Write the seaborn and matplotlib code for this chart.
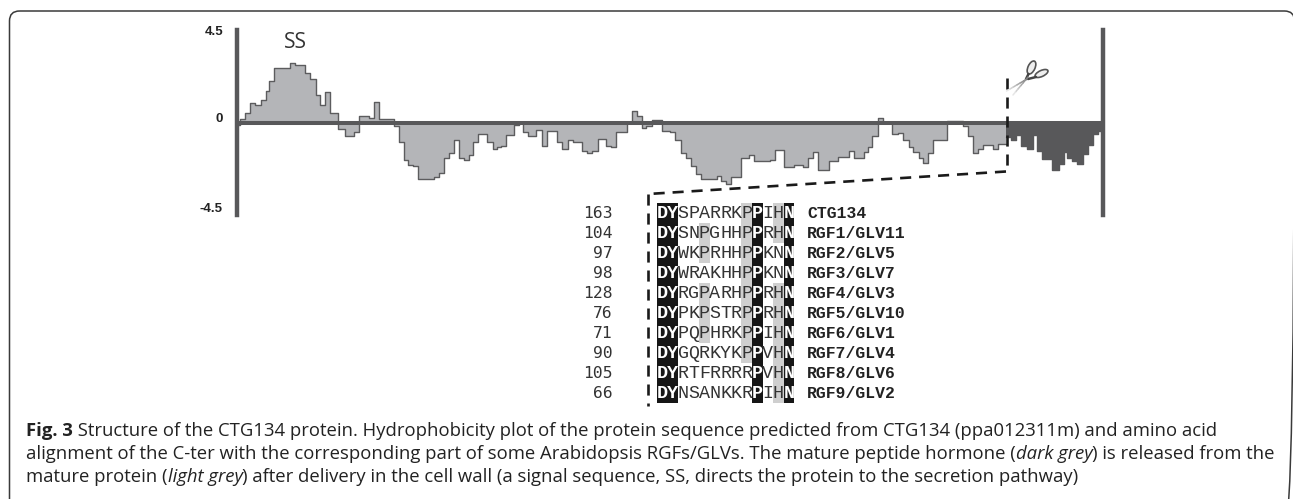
import matplotlib
matplotlib.use('Agg')
import matplotlib.pyplot as plt
import numpy as np
import pandas as pd
import seaborn as sns
from matplotlib.colors import ListedColormap
from matplotlib.patches import Ellipse, FancyBboxPatch

W, H = 1293, 499

# position along the sequence (arbitrary units, left to right) and hydrophobicity
light_pos = [0, 3, 8, 13, 18, 24, 29, 32, 37, 53, 58, 68, 73, 79, 83, 88, 93, 101, 108, 117,
             122, 132, 137, 142, 157, 162, 167, 171, 176, 181, 197, 202, 207, 212, 217, 222, 227, 232, 236, 241,
             250, 256, 261, 265, 270, 277, 282, 286, 291, 299, 305, 310, 320, 325, 331, 336, 345, 350, 355, 361,
             369, 374, 379, 390, 395, 400, 405, 409, 415, 425, 433, 438, 444, 449, 454, 459, 464, 480, 484, 489,
             494, 504, 513, 518, 534, 539, 548, 558, 567, 572, 577, 582, 593, 602, 613, 618, 628, 632, 636, 642,
             647, 656, 662, 667, 673, 677, 683, 687, 692, 697, 711, 727, 732, 737, 742, 747, 757, 762, 770]
light_hyd = [-0.1, 0.21, 0.49, 0.95, 0.87, 1.11, 1.57, 2.06, 2.66, 2.9, 2.84, 2.45, 2.12, 1.36, 0.87, 1.5, 0.49, -0.31, -0.62, -0.44,
             0.33, 0.23, 1.03, 0.18, -0.15, -0.93, -1.8, -2.03, -2.09, -2.73, -2.65, -2.44, -1.7, -1.47, -0.85, -1.72, -1.8, -1.58, -0.93, -0.55,
             -0.93, -1.26, -1.18, -1.1, -0.6, -0.1, 0, -0.44, -0.62, -0.33, -1.1, -0.38, -0.93, -1.26, -0.85, -0.93, -1.37, -1.47, -1.34, -0.8,
             -1.1, -1.18, -0.46, 0, 0.57, 0.33, -0.23, -0.13, 0.16, -0.39, -0.46, -0.85, -1.45, -1.72, -2.07, -2.48, -2.73, -2.56, -2.84, -2.97,
             -2.65, -1.72, -1.55, -1.86, -1.8, -1.31, -2.12, -2.03, -2.12, -1.7, -1.42, -2.27, -1.86, -1.67, -1.34, -1.7, -1.42, -1.18, -0.64, 0.25,
             0, -0.55, -0.49, -0.85, -1.18, -1.42, -1.7, -1.95, -1.45, -0.85, 0.1, -0.16, -0.65, -1.47, -1.26, -1.05, -1.26, -1.01, -1.01]
dark_pos = [770, 775, 780, 785, 790, 796, 800, 805, 815, 822, 827, 830, 835, 840, 846, 851, 856, 861, 865]
dark_hyd = [-0.69, -0.85, -0.6, -1.14, -1.26, -0.6, -1.34, -1.75, -2.27, -2.0, -1.39, -1.7, -1.83, -2.0, -1.5, -1.05, -0.55, -0.39, -0.39]

y_ticks = ['4.5', '0', '-4.5']

# alignment
names = ['CTG134', 'RGF1/GLV11', 'RGF2/GLV5', 'RGF3/GLV7', 'RGF4/GLV3',
         'RGF5/GLV10', 'RGF6/GLV1', 'RGF7/GLV4', 'RGF8/GLV6', 'RGF9/GLV2']
starts = [163, 104, 97, 98, 128, 76, 71, 90, 105, 66]
seqs = ['DYSPARRKPPIHN', 'DYSNPGHHPPRHN', 'DYWKPRHHPPKNN', 'DYWRAKHHPPKNN', 'DYRGPARHPPRHN',
        'DYPKPSTRPPRHN', 'DYPQPHRKPPIHN', 'DYGQRKYKPPVHN', 'DYRTFRRRRPVHN', 'DYNSANKKRPIHN']
black_cols = [0, 1, 9, 12]
grey_cells = {4: [1, 2, 4, 5, 6], 8: [0, 1, 2, 3, 4, 5, 6, 7], 11: [0, 1, 4, 5, 6, 7, 8, 9]}

caption = [
    [('Fig. 3', 'bold', 'normal'),
     (' Structure of the CTG134 protein. Hydrophobicity plot of the protein sequence predicted from CTG134 (ppa012311m) and amino acid', 'normal', 'normal')],
    [('alignment of the C-ter with the corresponding part of some Arabidopsis RGFs/GLVs. The mature peptide hormone (', 'normal', 'normal'),
     ('dark grey', 'normal', 'italic'),
     (') is released from the', 'normal', 'normal')],
    [('mature protein (', 'normal', 'normal'),
     ('light grey', 'normal', 'italic'),
     (') after delivery in the cell wall (a signal sequence, SS, directs the protein to the secretion pathway)', 'normal', 'normal')],
]

LIGHT = '#b4b5b8'
DARK = '#58585a'
EDGE = '#5c5c5e'
CAPTION_SIZE = 13.3


def px_axes(fig, left, top, right, bottom):
    return fig.add_axes([left / W, 1 - bottom / H, (right - left) / W, (bottom - top) / H])


def draw_profile(fig):
    ax = px_axes(fig, 236.5, 30.5, 1103, 215.5)
    light = pd.DataFrame({'pos': light_pos, 'hyd': light_hyd})
    dark = pd.DataFrame({'pos': dark_pos, 'hyd': dark_hyd})
    ax.fill_between(light['pos'], light['hyd'], 0, step='post', color=LIGHT, lw=0)
    ax.fill_between(dark['pos'], dark['hyd'], 0, step='post', color=DARK, lw=0)
    sns.lineplot(data=light, x='pos', y='hyd', estimator=None, drawstyle='steps-post',
                 color=EDGE, lw=1.0, ax=ax)
    sns.lineplot(data=dark, x='pos', y='hyd', estimator=None, drawstyle='steps-post',
                 color=DARK, lw=1.0, ax=ax)
    ax.axhline(0, color=DARK, lw=2.9, zorder=4)
    ax.set_xlim(0, 866.5)
    ax.set_ylim(-4.5, 4.5)
    ax.set_xticks([])
    ax.set_yticks([])
    ax.set_xlabel('')
    ax.set_ylabel('')
    ax.patch.set_alpha(0)
    for side in ['top', 'bottom']:
        ax.spines[side].set_visible(False)
    for side in ['left', 'right']:
        ax.spines[side].set_color(DARK)
        ax.spines[side].set_linewidth(3.2)


def draw_alignment(fig):
    ax = px_axes(fig, 656.7, 203, 794.3, 403)
    shade = np.zeros((len(seqs), len(seqs[0])))
    for col, rows in grey_cells.items():
        shade[rows, col] = 1
    shade[:, black_cols] = 2
    letters = np.array([list(s) for s in seqs])
    sns.heatmap(shade, annot=letters, fmt='', cbar=False, ax=ax, vmin=0, vmax=2,
                cmap=ListedColormap(['#ffffff', '#cfcfcf', '#161616']),
                annot_kws={'family': 'Liberation Mono', 'size': 13.2},
                xticklabels=False, yticklabels=False)
    # residues on black are heavier in the alignment
    n_cols = len(seqs[0])
    for i, txt in enumerate(ax.texts):
        if i % n_cols in black_cols:
            txt.set_weight('bold')
        else:
            txt.set_color('#333333')


def draw_overlay(fig):
    ov = fig.add_axes([0, 0, 1, 1], zorder=10)
    ov.set_xlim(0, W)
    ov.set_ylim(H, 0)
    ov.axis('off')
    ov.patch.set_alpha(0)

    # the right side of the frame is cut off by the image edge
    ov.add_patch(FancyBboxPatch((9.5, 11), 1285, 520, boxstyle='round,pad=0,rounding_size=10',
                                fc='none', ec='#3a3a3a', lw=1.1, clip_on=True))

    for label, y in zip(y_ticks, [32, 119, 209]):
        ov.text(223, y, label, ha='right', va='center', family='Liberation Sans',
                weight='bold', size=9.5, color='#222222')
    ov.text(295, 42, 'SS', ha='center', va='center', family='Open Sans', size=15, color='#333333')

    # dashed guides
    dash = dict(color='#1a1a1a', lw=1.9, dashes=(4.2, 3.0))
    ov.plot([1007, 1007], [78, 171.5], **dash)
    ov.plot([1006, 648], [171.5, 194], **dash)
    ov.plot([648, 648], [194, 406], **dash)

    # scissors
    ov.add_patch(Ellipse((1031.5, 67.5), 7, 14, angle=25, fc='#eeeeee', ec='#555555', lw=1.2))
    ov.add_patch(Ellipse((1041.5, 73.5), 6, 14, angle=65, fc='#eeeeee', ec='#555555', lw=1.2))
    ov.plot([1028.5, 1026], [74, 79], color='#444444', lw=1.8)
    ov.plot([1036, 1028], [77, 79], color='#444444', lw=1.8)
    for k in range(6):
        f0, f1 = k / 6, (k + 1) / 6
        shade = str(0.5 + 0.08 * k)
        ov.plot([1027 + (1006.5 - 1027) * f0, 1027 + (1006.5 - 1027) * f1],
                [79 + (91 - 79) * f0, 79 + (91 - 79) * f1], color=shade, lw=1.1)
        ov.plot([1028 + (1013 - 1028) * f0, 1028 + (1013 - 1028) * f1],
                [77 + (95 - 77) * f0, 77 + (95 - 77) * f1], color=shade, lw=1.1)

    for i, (num, name) in enumerate(zip(starts, names)):
        y = 213 + i * 20
        ov.text(613, y, str(num), ha='right', va='center', family='DejaVu Sans Mono',
                size=11.8, color='#333333')
        ov.text(807, y, name, ha='left', va='center', family='Liberation Mono',
                weight='bold', size=11.8, color='#222222')

    # caption runs, placed one after the other
    fig.canvas.draw()
    renderer = fig.canvas.get_renderer()
    for runs, y in zip(caption, [431, 454, 477]):
        x = 26
        for text, weight, style in runs:
            shown = text.replace(' ', '\u00a0')
            t = ov.text(x, y, shown, ha='left', va='center', family='Open Sans', weight=weight,
                        style=style, size=CAPTION_SIZE, color='#222222')
            x += t.get_window_extent(renderer).width


def main():
    sns.set_theme(style='white')
    fig = plt.figure(figsize=(W / 100, H / 100), dpi=100)
    draw_profile(fig)
    draw_alignment(fig)
    draw_overlay(fig)
    fig.savefig('out.png', dpi=100)


if __name__ == '__main__':
    main()
